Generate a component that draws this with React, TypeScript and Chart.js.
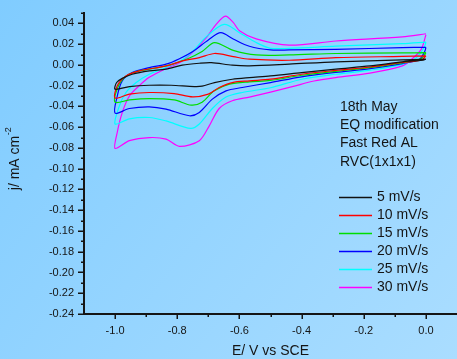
import React, { useEffect, useRef } from "react";
import { Chart, registerables } from "chart.js";

Chart.register(...registerables);

// ---- Data (E in V vs SCE, j in mA cm^-2); each loop: cathodic branch 0 -> -1.0, then anodic branch -1.0 -> 0
const e5 = [0, -0.009, -0.038, -0.076, -0.18, -0.29, -0.40, -0.50, -0.568, -0.623, -0.68, -0.72, -0.745, -0.82, -0.89, -0.954, -1.0,
  -0.995, -0.977, -0.945, -0.89, -0.836, -0.784, -0.729, -0.69, -0.623, -0.568, -0.44, -0.29, -0.076, 0];
const j5 = [0.0055, 0.0045, 0.0038, 0.003, -0.001, -0.004, -0.0074, -0.0106, -0.0122, -0.0138, -0.017, -0.0205, -0.0209, -0.0196, -0.0196, -0.0209, -0.0234,
  -0.017, -0.013, -0.009, -0.0058, -0.0041, -0.0003, 0.0016, 0.0022, -0.0003, -0.001, 0.0007, 0.003, 0.0048, 0.0055];

const e10 = [0, -0.012, -0.038, -0.076, -0.18, -0.29, -0.40, -0.50, -0.568, -0.623, -0.665, -0.70, -0.75, -0.81, -0.89, -0.954, -1.0,
  -0.993, -0.965, -0.922, -0.836, -0.784, -0.729, -0.68, -0.62, -0.568, -0.44, -0.29, -0.076, 0];
const j10 = [0.0087, 0.005, 0.0034, 0.0025, -0.002, -0.0053, -0.009, -0.0138, -0.0154, -0.017, -0.0218, -0.0282, -0.0308, -0.0276, -0.0266, -0.0282, -0.032,
  -0.020, -0.0106, -0.0058, -0.001, 0.0038, 0.007, 0.011, 0.008, 0.0055, 0.0045, 0.007, 0.0082, 0.0087];

const e15 = [0, -0.009, -0.028, -0.076, -0.18, -0.29, -0.40, -0.50, -0.568, -0.632, -0.681, -0.72, -0.755, -0.81, -0.89, -0.954, -1.0,
  -0.993, -0.97, -0.934, -0.836, -0.77, -0.72, -0.68, -0.62, -0.546, -0.44, -0.29, -0.076, 0];
const j15 = [0.0118, 0.0075, 0.0045, 0.002, -0.0026, -0.0063, -0.010, -0.015, -0.0163, -0.0186, -0.025, -0.036, -0.0388, -0.0337, -0.0324, -0.0337, -0.036,
  -0.023, -0.0122, -0.0067, -0.001, 0.0055, 0.013, 0.0215, 0.014, 0.0096, 0.0096, 0.011, 0.0115, 0.0118];

const e20 = [0, -0.003, -0.021, -0.076, -0.18, -0.29, -0.40, -0.50, -0.591, -0.643, -0.687, -0.729, -0.761, -0.836, -0.89, -0.954, -1.0,
  -0.993, -0.977, -0.945, -0.89, -0.836, -0.793, -0.75, -0.70, -0.66, -0.62, -0.568, -0.50, -0.44, -0.29, -0.076, 0];
const j20 = [0.017, 0.0135, 0.0055, 0.0013, -0.0036, -0.0072, -0.0115, -0.017, -0.0218, -0.025, -0.033, -0.0458, -0.049, -0.0426, -0.0404, -0.042, -0.0465,
  -0.030, -0.0154, -0.0074, -0.0026, 0.0007, 0.006, 0.013, 0.024, 0.031, 0.025, 0.018, 0.0144, 0.0144, 0.015, 0.0166, 0.017];

const e25 = [0, -0.006, -0.031, -0.076, -0.18, -0.29, -0.40, -0.50, -0.591, -0.643, -0.687, -0.729, -0.757, -0.836, -0.89, -0.954, -1.0,
  -0.986, -0.965, -0.932, -0.89, -0.836, -0.784, -0.75, -0.707, -0.649, -0.60, -0.546, -0.50, -0.44, -0.29, -0.076, 0];
const j25 = [0.022, 0.0166, 0.007, 0.0005, -0.0051, -0.009, -0.0138, -0.022, -0.0266, -0.031, -0.042, -0.057, -0.0612, -0.054, -0.0507, -0.052, -0.057,
  -0.0394, -0.0266, -0.017, -0.009, -0.0026, 0.0048, 0.013, 0.027, 0.039, 0.031, 0.0215, 0.016, 0.016, 0.018, 0.0205, 0.022];

const e30 = [0, -0.015, -0.044, -0.076, -0.18, -0.29, -0.36, -0.43, -0.50, -0.568, -0.623, -0.665, -0.697, -0.729, -0.793, -0.836, -0.89, -0.954, -1.0,
  -0.993, -0.977, -0.954, -0.922, -0.89, -0.836, -0.793, -0.755, -0.707, -0.675, -0.645, -0.62, -0.60, -0.546, -0.44, -0.29, -0.076, 0];
const j30 = [0.029, 0.015, 0.006, -0.001, -0.008, -0.0122, -0.0155, -0.021, -0.0262, -0.031, -0.0346, -0.042, -0.0587, -0.073, -0.0785, -0.0715, -0.070, -0.073, -0.0805,
  -0.065, -0.046, -0.030, -0.020, -0.012, -0.0035, 0.002, 0.011, 0.026, 0.039, 0.047, 0.041, 0.033, 0.025, 0.019, 0.023, 0.027, 0.030];

const seriesLabels = ["5 mV/s", "10 mV/s", "15 mV/s", "20 mV/s", "25 mV/s", "30 mV/s"];
const seriesColors = ["#111111", "#ff0000", "#00dd00", "#0000ff", "#00ffff", "#ff00ff"];
const seriesE = [e5, e10, e15, e20, e25, e30];
const seriesJ = [j5, j10, j15, j20, j25, j30];

const xTickValues = [-1.0, -0.8, -0.6, -0.4, -0.2, 0.0];
const yTickValues = [0.04, 0.02, 0.0, -0.02, -0.04, -0.06, -0.08, -0.1, -0.12, -0.14, -0.16, -0.18, -0.2, -0.22, -0.24];
const annotationLines = ["18th May", "EQ modification", "Fast Red AL", "RVC(1x1x1)"];
const xTitle = "E/ V vs SCE";
const yTitle = "j/ mA cm";
const yTitleSup = "-2";

const FONT = "'Liberation Sans', Arial, sans-serif";
const INK = "#151515";

const decorPlugin = {
  id: "cvDecor",
  beforeDraw(chart: any) {
    const { ctx, width, height } = chart;
    const g = ctx.createLinearGradient(0, 0, width, height);
    g.addColorStop(0, "#80CCFF");
    g.addColorStop(1, "#AADDFF");
    ctx.save();
    ctx.fillStyle = g;
    ctx.fillRect(0, 0, width, height);
    ctx.restore();
  },
  afterDraw(chart: any) {
    const { ctx } = chart;
    const xs = chart.scales.x;
    const ys = chart.scales.y;
    const { left, right, bottom } = chart.chartArea;
    const topY = ys.getPixelForValue(0.05);
    ctx.save();
    ctx.strokeStyle = INK;
    ctx.lineWidth = 2;
    ctx.beginPath();
    ctx.moveTo(left, topY - 1);
    ctx.lineTo(left, bottom + 1);
    ctx.moveTo(left - 1, bottom);
    ctx.lineTo(right, bottom);
    ctx.stroke();
    ctx.lineWidth = 1.5;
    ctx.beginPath();
    for (let k = -24; k <= 5; k++) {
      const y = Math.round(ys.getPixelForValue(k / 100)) + 0.25;
      const len = k % 2 === 0 ? 6 : 3;
      ctx.moveTo(left - len, y);
      ctx.lineTo(left, y);
    }
    for (let k = -10; k <= 0; k++) {
      const x = Math.round(xs.getPixelForValue(k / 10)) + 0.25;
      const len = k % 2 === 0 ? 5 : 3;
      ctx.moveTo(x, bottom);
      ctx.lineTo(x, bottom + len);
    }
    ctx.stroke();

    ctx.fillStyle = INK;
    ctx.font = `14px ${FONT}`;
    ctx.textAlign = "center";
    ctx.textBaseline = "middle";
    ctx.fillText(xTitle, (left + right) / 2, 351);

    ctx.save();
    ctx.translate(15, 159);
    ctx.rotate(-Math.PI / 2);
    ctx.font = `14px ${FONT}`;
    const w1 = ctx.measureText(yTitle).width;
    ctx.font = `9px ${FONT}`;
    const w2 = ctx.measureText(yTitleSup).width;
    const start = -(w1 + w2) / 2;
    ctx.textAlign = "left";
    ctx.font = `14px ${FONT}`;
    ctx.fillText(yTitle, start, 0);
    ctx.font = `9px ${FONT}`;
    ctx.fillText(yTitleSup, start + w1 + 0.5, -6);
    ctx.restore();

    ctx.font = `14px ${FONT}`;
    ctx.textAlign = "left";
    ctx.textBaseline = "middle";
    annotationLines.forEach((t, i) => {
      ctx.fillText(t, 340, 107 + i * 18.3);
    });

    seriesLabels.forEach((t, i) => {
      const y = 197 + i * 18;
      ctx.strokeStyle = seriesColors[i];
      ctx.lineWidth = 1.3;
      ctx.beginPath();
      ctx.moveTo(339, y + 0.5);
      ctx.lineTo(372, y + 0.5);
      ctx.stroke();
      ctx.fillStyle = INK;
      ctx.fillText(t, 377, y);
    });
    ctx.restore();
  },
};

export default function App() {
  const ref = useRef<HTMLCanvasElement | null>(null);
  useEffect(() => {
    if (!ref.current) return;
    const datasets = seriesLabels.map((label, i) => ({
      label,
      data: seriesE[i].map((x, k) => ({ x, y: seriesJ[i][k] })),
      showLine: true,
      borderColor: seriesColors[i],
      backgroundColor: seriesColors[i],
      borderWidth: 1.2,
      pointRadius: 0,
      tension: 0.3,
      fill: false,
    }));
    const tickFont = { family: FONT, size: 11 };
    const chart = new Chart(ref.current, {
      type: "scatter",
      data: { datasets },
      plugins: [decorPlugin],
      options: {
        animation: false,
        responsive: false,
        maintainAspectRatio: false,
        events: [],
        layout: { padding: { top: 13, left: 0, right: 0, bottom: 0 } },
        plugins: { legend: { display: false }, tooltip: { enabled: false }, title: { display: false } },
        scales: {
          x: {
            type: "linear",
            min: -1.1,
            max: 0.1,
            grid: { display: false, drawTicks: false },
            border: { display: false },
            ticks: {
              padding: 10,
              font: tickFont,
              color: INK,
              maxRotation: 0,
              autoSkip: false,
              callback: (v: any) => Number(v).toFixed(1),
            },
            afterBuildTicks: (s: any) => {
              s.ticks = xTickValues.map((value) => ({ value }));
            },
            afterFit: (s: any) => {
              s.height = 45;
              s.paddingLeft = 0;
              s.paddingRight = 0;
            },
          },
          y: {
            type: "linear",
            min: -0.24,
            max: 0.05,
            grid: { display: false, drawTicks: false },
            border: { display: false },
            ticks: {
              padding: 10,
              font: tickFont,
              color: INK,
              autoSkip: false,
              callback: (v: any) => Number(v).toFixed(2),
            },
            afterBuildTicks: (s: any) => {
              s.ticks = yTickValues.map((value) => ({ value }));
            },
            afterFit: (s: any) => {
              s.width = 84;
              s.paddingTop = 0;
              s.paddingBottom = 0;
            },
          },
        },
      } as any,
    });
    return () => chart.destroy();
  }, []);
  return (
    <div style={{ position: "fixed", left: 0, top: 0, width: 457, height: 359 }}>
      <canvas ref={ref} width={457} height={359} style={{ display: "block", width: 457, height: 359 }} />
    </div>
  );
}
